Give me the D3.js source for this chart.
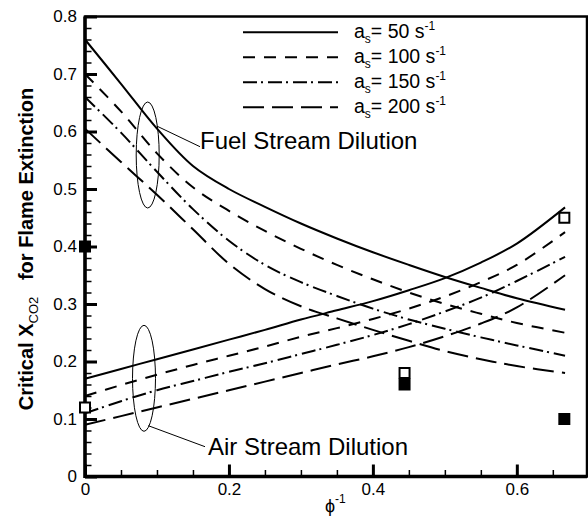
<!DOCTYPE html>
<html>
<head>
<meta charset="utf-8">
<script src="https://cdn.jsdelivr.net/npm/d3@7"></script>
<style>
  body { margin: 0; background: #fff; }
  svg { font-family: Arial, "Liberation Sans", sans-serif; }
</style>
</head>
<body>
<svg id="chart" width="588" height="518"></svg>
<script>
// inverse equivalence ratio (phi^-1) sample points
var phiInv = [0, 0.05, 0.1, 0.15, 0.2, 0.25, 0.3, 0.35, 0.4, 0.45, 0.5, 0.55, 0.6, 0.667];

// fuel stream dilution, critical X_CO2 per strain rate
var fuel50  = [0.76, 0.683, 0.605, 0.54, 0.50, 0.469, 0.44, 0.414, 0.39, 0.368, 0.347, 0.328, 0.31, 0.29];
var fuel100 = [0.70, 0.635, 0.562, 0.503, 0.462, 0.427, 0.396, 0.368, 0.343, 0.32, 0.30, 0.283, 0.267, 0.25];
var fuel150 = [0.66, 0.598, 0.53, 0.465, 0.41, 0.368, 0.338, 0.314, 0.292, 0.273, 0.257, 0.242, 0.228, 0.21];
var fuel200 = [0.605, 0.547, 0.49, 0.43, 0.37, 0.326, 0.296, 0.275, 0.255, 0.236, 0.218, 0.204, 0.192, 0.18];

// air stream dilution
var air50  = [0.17, 0.187, 0.204, 0.221, 0.238, 0.255, 0.273, 0.289, 0.305, 0.324, 0.345, 0.372, 0.405, 0.468];
var air100 = [0.14, 0.159, 0.177, 0.194, 0.21, 0.226, 0.243, 0.258, 0.274, 0.292, 0.313, 0.338, 0.368, 0.425];
var air150 = [0.11, 0.131, 0.15, 0.166, 0.182, 0.197, 0.213, 0.229, 0.246, 0.265, 0.287, 0.311, 0.34, 0.382];
var air200 = [0.09, 0.105, 0.12, 0.135, 0.15, 0.165, 0.18, 0.195, 0.209, 0.225, 0.244, 0.266, 0.294, 0.35];

// experimental points
var markerX = [0, 0.444, 0.666];
var openY   = [0.12, 0.18, 0.45];
var filledY = [0.40, 0.16, 0.10];

var strainRates = ['50', '100', '150', '200'];
var xMajor = [0, 0.2, 0.4, 0.6];
var yMajor = [0, 0.1, 0.2, 0.3, 0.4, 0.5, 0.6, 0.7, 0.8];

var dashes = ['none', '12,9', '14,4,2,5', '21,8'];

(function() {
  var svg = d3.select('#chart');
  var pl = 85, pr = 587, pt = 16.5, pb = 476.5;
  var x = d3.scaleLinear().domain([0, 0.6975]).range([pl, pr]);
  var y = d3.scaleLinear().domain([0, 0.8]).range([pb, pt]);

  // minor ticks
  var xMinor = d3.range(0, 0.6976, 0.05).filter(function(v) { return Math.abs(v / 0.2 - Math.round(v / 0.2)) > 1e-6; });
  var yMinor = d3.range(0, 0.8001, 0.02).filter(function(v) { return Math.abs(v / 0.1 - Math.round(v / 0.1)) > 1e-6; });

  svg.append('g').attr('transform', 'translate(0,' + pb + ')')
    .call(d3.axisBottom(x).tickValues(xMinor).tickSize(-6.5).tickFormat(''))
    .call(function(g) { g.select('.domain').remove(); g.selectAll('line').attr('stroke-width', 1.5); });
  svg.append('g').attr('transform', 'translate(' + pl + ',0)')
    .call(d3.axisLeft(y).tickValues(yMinor).tickSize(-6.5).tickFormat(''))
    .call(function(g) { g.select('.domain').remove(); g.selectAll('line').attr('stroke-width', 1.5); });

  var fmt = function(d) { return d === 0 ? '0' : d3.format('.1f')(d); };
  var xAxis = svg.append('g').attr('transform', 'translate(0,' + pb + ')')
    .call(d3.axisBottom(x).tickValues(xMajor).tickSize(-12).tickPadding(6).tickFormat(fmt));
  xAxis.select('.domain').remove();
  xAxis.selectAll('line').attr('stroke-width', 3);
  xAxis.selectAll('text').attr('font-size', 17).attr('fill', '#000').attr('font-family', null);

  var yAxis = svg.append('g').attr('transform', 'translate(' + pl + ',0)')
    .call(d3.axisLeft(y).tickValues(yMajor).tickSize(-12).tickPadding(8).tickFormat(fmt));
  yAxis.select('.domain').remove();
  yAxis.selectAll('line').attr('stroke-width', 3);
  yAxis.selectAll('text').attr('font-size', 17).attr('fill', '#000').attr('font-family', null);

  // frame
  svg.append('rect').attr('x', pl).attr('y', pt)
    .attr('width', pr - pl).attr('height', pb - pt)
    .attr('fill', 'none').attr('stroke', '#000').attr('stroke-width', 2.5);
  svg.append('line').attr('x1', pl).attr('x2', pl).attr('y1', pt).attr('y2', pb + 1.5)
    .attr('stroke', '#000').attr('stroke-width', 3.5);
  svg.append('line').attr('x1', pl).attr('x2', pr).attr('y1', pb).attr('y2', pb)
    .attr('stroke', '#000').attr('stroke-width', 3.5);

  // curves
  var line = d3.line()
    .x(function(d) { return x(d[0]); })
    .y(function(d) { return y(d[1]); })
    .curve(d3.curveCatmullRom.alpha(0.5));

  var fuel = [fuel50, fuel100, fuel150, fuel200];
  var air = [air50, air100, air150, air200];
  [fuel, air].forEach(function(set) {
    set.forEach(function(vals, i) {
      svg.append('path')
        .datum(phiInv.map(function(p, j) { return [p, vals[j]]; }))
        .attr('d', line)
        .attr('fill', 'none').attr('stroke', '#000').attr('stroke-width', 2)
        .attr('stroke-dasharray', dashes[i]);
    });
  });

  // markers
  var ms = 12;
  svg.selectAll('rect.filled').data(markerX).enter().append('rect')
    .attr('class', 'filled')
    .attr('x', function(d) { return x(d) - ms / 2; })
    .attr('y', function(d, i) { return y(filledY[i]) - ms / 2; })
    .attr('width', ms).attr('height', ms).attr('fill', '#000');
  svg.selectAll('rect.open').data(markerX).enter().append('rect')
    .attr('class', 'open')
    .attr('x', function(d) { return x(d) - (ms - 2) / 2; })
    .attr('y', function(d, i) { return y(openY[i]) - (ms - 2) / 2; })
    .attr('width', ms - 2).attr('height', ms - 2)
    .attr('fill', '#fff').attr('stroke', '#000').attr('stroke-width', 2);

  // legend
  var leg = svg.append('g');
  strainRates.forEach(function(r, i) {
    var ly = 32.3 + i * 25;
    leg.append('line').attr('x1', 243).attr('x2', 338).attr('y1', ly).attr('y2', ly)
      .attr('stroke', '#000').attr('stroke-width', 2).attr('stroke-dasharray', dashes[i]);
    var t = leg.append('text').attr('x', 354).attr('y', ly + 6).attr('font-size', 19.5);
    t.append('tspan').text('a');
    t.append('tspan').attr('font-size', 12).attr('dy', 5).text('s');
    t.append('tspan').attr('dy', -5).text('= ' + r + ' s');
    t.append('tspan').attr('font-size', 12).attr('dy', -8).text('-1');
  });

  // annotation ellipses and labels
  function annotate(cx, cy, lx1, ly1, lx2, ly2, tx, ty, label) {
    svg.append('ellipse').attr('cx', cx).attr('cy', cy).attr('rx', 11.5).attr('ry', 53)
      .attr('fill', 'none').attr('stroke', '#000').attr('stroke-width', 1);
    svg.append('line').attr('x1', lx1).attr('y1', ly1).attr('x2', lx2).attr('y2', ly2)
      .attr('stroke', '#000').attr('stroke-width', 1);
    svg.append('text').attr('x', tx).attr('y', ty).attr('font-size', 24).text(label);
  }
  annotate(147.7, 155, 156.7, 126, 200, 146.7, 200, 148.5, 'Fuel Stream Dilution');
  annotate(144, 378.3, 148.3, 425.7, 205, 446.7, 208, 455, 'Air Stream Dilution');

  // axis titles
  var yl = svg.append('text').attr('transform', 'translate(33,249) rotate(-90)')
    .attr('text-anchor', 'middle').attr('font-size', 20).attr('font-weight', 'bold');
  yl.append('tspan').text('Critical X');
  yl.append('tspan').attr('font-size', 13).attr('font-weight', 'normal').attr('dy', 5).text('CO2');
  yl.append('tspan').attr('dy', -5).text('\u00a0\u00a0 for Flame Extinction');

  var xl = svg.append('text').attr('x', 325).attr('y', 512).attr('font-size', 18);
  xl.append('tspan').text('\u03d5');
  xl.append('tspan').attr('font-size', 12).attr('dy', -9).text('-1');
})();
</script>
</body>
</html>
